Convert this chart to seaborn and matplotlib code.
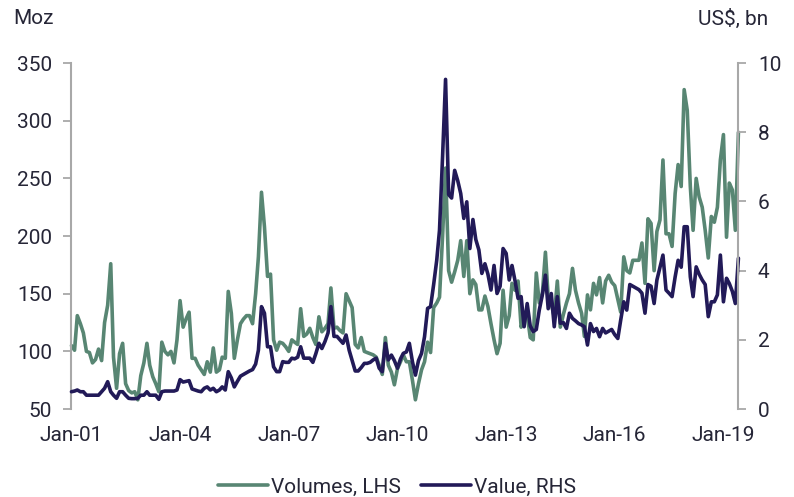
import numpy as np
import pandas as pd
import matplotlib
matplotlib.use("Agg")
import matplotlib.pyplot as plt
import matplotlib.dates as mdates
import seaborn as sns

# ---- data (monthly, Jan-2001 .. Jun-2019) ----
dates = pd.date_range("2001-01-01", periods=222, freq="MS")

volumes_lhs = [
    105, 101, 131, 124, 116, 100, 99, 90, 93, 102, 92, 125,      # 2001
    140, 176, 95, 68, 98, 107, 72, 66, 64, 65, 58, 79,           # 2002
    90, 107, 88, 78, 72, 65, 108, 100, 97, 100, 90, 110,         # 2003
    144, 121, 128, 134, 94, 94, 88, 84, 80, 91, 82, 103,         # 2004
    82, 84, 95, 94, 152, 133, 94, 110, 124, 128, 131, 131,       # 2005
    124, 150, 182, 238, 208, 165, 167, 110, 101, 108, 107, 104,  # 2006
    100, 110, 108, 106, 137, 113, 115, 120, 112, 106, 130, 117,  # 2007
    120, 124, 155, 120, 121, 118, 116, 150, 144, 138, 106, 103,  # 2008
    112, 100, 99, 98, 97, 95, 88, 80, 112, 88, 82, 71,           # 2009
    85, 91, 97, 91, 91, 75, 58, 72, 84, 91, 108, 99,             # 2010
    138, 142, 147, 200, 259, 170, 160, 169, 179, 196, 165, 196,  # 2011
    150, 162, 158, 136, 136, 148, 139, 124, 110, 98, 107, 153,   # 2012
    121, 131, 159, 153, 161, 121, 128, 132, 112, 110, 168, 142,  # 2013
    150, 186, 147, 141, 130, 161, 121, 132, 142, 150, 172, 153,  # 2014
    142, 133, 113, 149, 136, 159, 149, 164, 142, 161, 166, 160,  # 2015
    157, 145, 134, 182, 170, 168, 179, 179, 179, 194, 159, 215,  # 2016
    211, 170, 204, 214, 266, 202, 202, 191, 237, 262, 243, 327,  # 2017
    309, 243, 205, 250, 234, 225, 205, 181, 217, 212, 225, 266,  # 2018
    288, 199, 246, 240, 205, 290,                                # 2019
]

value_rhs = [
    0.50, 0.52, 0.55, 0.50, 0.50, 0.40, 0.40, 0.40, 0.40, 0.40, 0.50, 0.60,  # 2001
    0.79, 0.50, 0.40, 0.31, 0.50, 0.50, 0.40, 0.31, 0.30, 0.30, 0.31, 0.40,  # 2002
    0.40, 0.50, 0.40, 0.40, 0.40, 0.28, 0.50, 0.52, 0.52, 0.52, 0.52, 0.55,  # 2003
    0.85, 0.78, 0.80, 0.82, 0.58, 0.55, 0.52, 0.50, 0.60, 0.64, 0.55, 0.60,  # 2004
    0.50, 0.55, 0.64, 0.55, 1.08, 0.90, 0.64, 0.80, 0.95, 1.00, 1.05, 1.10,  # 2005
    1.14, 1.30, 1.70, 2.96, 2.77, 1.80, 1.80, 1.22, 1.08, 1.08, 1.37, 1.35,  # 2006
    1.35, 1.47, 1.45, 1.50, 1.80, 1.47, 1.47, 1.47, 1.35, 1.60, 1.90, 1.75,  # 2007
    1.95, 2.20, 2.96, 2.10, 2.10, 2.00, 1.90, 2.14, 1.70, 1.40, 1.10, 1.10,  # 2008
    1.20, 1.32, 1.32, 1.35, 1.42, 1.47, 1.18, 1.08, 1.90, 1.42, 1.56, 1.40,  # 2009
    1.18, 1.45, 1.61, 1.65, 1.90, 1.37, 0.98, 1.40, 1.61, 2.09, 2.91, 2.96,  # 2010
    3.60, 4.30, 5.17, 7.30, 9.53, 6.20, 6.10, 6.90, 6.60, 6.23, 5.51, 5.99,  # 2011
    4.64, 5.48, 4.90, 4.60, 3.92, 4.20, 3.90, 3.44, 4.15, 3.34, 3.55, 4.64,  # 2012
    4.50, 3.73, 4.15, 3.70, 3.20, 3.25, 2.38, 3.05, 2.40, 2.24, 2.30, 2.86,  # 2013
    3.30, 3.87, 2.90, 3.34, 2.38, 3.25, 2.48, 2.50, 2.33, 2.77, 2.62, 2.55,  # 2014
    2.47, 2.43, 2.38, 1.85, 2.47, 2.24, 2.33, 2.09, 2.33, 2.20, 2.25, 2.30,  # 2015
    2.15, 2.04, 2.57, 3.10, 2.86, 3.60, 3.55, 3.50, 3.45, 3.35, 2.77, 3.60,  # 2016
    3.55, 3.05, 3.73, 4.10, 4.45, 3.44, 3.35, 3.25, 3.82, 4.30, 4.10, 5.27,  # 2017
    5.27, 3.82, 3.25, 4.11, 3.90, 3.73, 3.60, 2.67, 3.10, 3.10, 3.30, 4.45,  # 2018
    3.10, 3.78, 3.63, 3.40, 3.05, 4.36,                                      # 2019
]

series_labels = ["Volumes, LHS", "Value, RHS"]
left_unit = "Moz"
right_unit = "US$, bn"
left_ticks = [50, 100, 150, 200, 250, 300, 350]
right_ticks = [0, 2, 4, 6, 8, 10]
x_tick_years = [2001, 2004, 2007, 2010, 2013, 2016, 2019]

# ---- style ----
sns.set_style("white")
plt.rcParams["font.family"] = ["Roboto", "DejaVu Sans"]
GREEN = "#588673"
NAVY = "#221A58"
TEXT = "#262637"
SPINE = "#A8A8A8"
FS = 15

df = pd.DataFrame({"date": dates, "vol": volumes_lhs, "val": value_rhs})

fig = plt.figure(figsize=(7.94, 4.97), dpi=100)
ax = fig.add_axes([0.0900, 0.177, 0.840, 0.696])
sns.lineplot(data=df, x="date", y="vol", ax=ax, color=GREEN, linewidth=2.6,
             label=series_labels[0], legend=False)
ax2 = ax.twinx()
sns.lineplot(data=df, x="date", y="val", ax=ax2, color=NAVY, linewidth=2.6,
             label=series_labels[1], legend=False)
for a in (ax, ax2):
    for ln in a.get_lines():
        ln.set_clip_on(False)

ax.set_xlim(dates[0], dates[-1])
ax.set_ylim(50, 350)
ax2.set_ylim(0, 10)
ax.set_yticks(left_ticks)
ax2.set_yticks(right_ticks)
ax.set_xticks([pd.Timestamp(f"{y}-01-01") for y in x_tick_years])
ax.xaxis.set_major_formatter(mdates.DateFormatter("%b-%y"))

for a in (ax, ax2):
    a.set_xlabel("")
    a.set_ylabel("")
    a.grid(False)
    for s in a.spines.values():
        s.set_visible(False)
    a.set_facecolor("none")

ax.spines["left"].set_visible(True)
ax.spines["left"].set_color(SPINE)
ax.spines["left"].set_linewidth(1.5)
ax2.spines["right"].set_visible(True)
ax2.spines["right"].set_color(SPINE)
ax2.spines["right"].set_linewidth(1.5)

ax.tick_params(axis="y", direction="out", length=6, width=1.3, color=SPINE,
               labelsize=FS, labelcolor=TEXT, pad=8)
ax2.tick_params(axis="y", direction="out", length=6, width=1.3, color=SPINE,
                labelsize=FS, labelcolor=TEXT, pad=8)
ax.tick_params(axis="x", length=0, labelsize=FS, labelcolor=TEXT, pad=12)

fig.text(13 / 794, 1 - 19 / 497, left_unit, ha="left", va="center",
         fontsize=FS, color=TEXT)
fig.text(768 / 794, 1 - 19 / 497, right_unit, ha="right", va="center",
         fontsize=FS, color=TEXT)

h1, l1 = ax.get_legend_handles_labels()
h2, l2 = ax2.get_legend_handles_labels()
fig.legend(h1 + h2, l1 + l2, loc="center", bbox_to_anchor=(0.5, 1 - 487 / 497),
           ncol=2, frameon=False, fontsize=FS, handlelength=2.4,
           handletextpad=0.15, columnspacing=1.0, labelcolor=TEXT)

fig.savefig("out.png", dpi=100)
